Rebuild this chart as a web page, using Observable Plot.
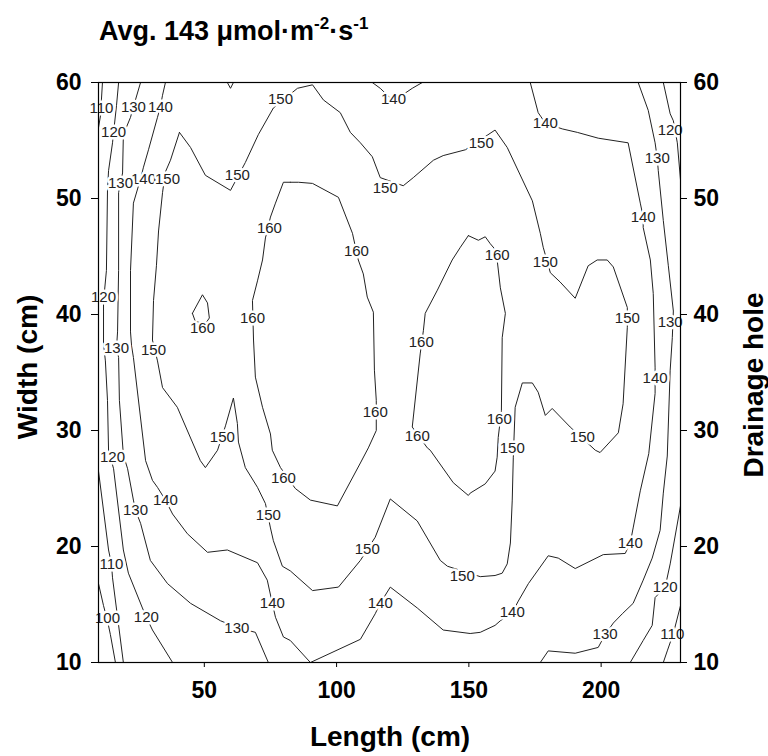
<!DOCTYPE html>
<html><head><meta charset="utf-8">
<script src="https://cdn.jsdelivr.net/npm/d3@7"></script>
<script src="https://cdn.jsdelivr.net/npm/@observablehq/plot@0.6"></script>
<style>body{margin:0;background:#fff;} #chart{width:768px;height:756px;}</style>
</head><body><div id="chart"></div>
<script>
// Axis ticks
const xTicks = [50, 100, 150, 200];
const yTicks = [10, 20, 30, 40, 50, 60];

// Contour lines: [length (cm), width (cm)]
const c150 = [[40.6,55.7],[37.2,53.3],[35.3,52.3],[34.2,50.5],[32.7,47.2],[31.9,44.2],[30.8,41.2],[30.4,37.8],[32.3,36.0],[34.2,33.7],[39.8,32.0],[48.5,27.4],[50.4,26.8],[55.0,28.3],[58.0,30.4],[61.0,32.8],[62.5,30.6],[62.9,29.0],[65.5,26.8],[70.1,25.1],[73.1,23.7],[75.0,21.6],[76.1,20.5],[79.5,18.3],[82.5,17.9],[90.9,16.2],[100.7,16.5],[109.0,18.8],[114.6,20.8],[120.3,24.1],[130.5,22.2],[139.2,18.8],[141.9,18.3],[154.3,17.4],[159.9,17.5],[162.6,17.7],[164.5,18.5],[165.7,20.3],[166.4,24.0],[166.8,27.7],[167.5,32.0],[170.2,34.1],[174.0,34.1],[176.2,33.3],[178.9,31.3],[181.5,31.9],[188.3,30.3],[197.8,28.3],[199.6,28.1],[206.5,29.8],[208.3,32.3],[209.9,38.9],[209.9,40.6],[204.6,44.1],[202.3,44.7],[198.5,44.7],[195.1,44.2],[190.2,41.4],[184.5,42.8],[180.8,43.6],[178.1,45.8],[177.0,47.0],[174.0,49.8],[164.5,54.4],[159.9,55.9],[148.7,54.2],[140.3,53.7],[136.6,53.3],[129.0,51.8],[125.2,51.1],[116.5,51.8],[113.5,53.6],[109.0,54.8],[105.2,55.7],[101.4,57.4],[95.0,58.5],[90.9,59.8],[85.2,59.5],[76.1,57.8],[70.4,55.5],[65.5,53.1],[59.9,50.7],[50.4,52.0],[44.8,54.4],[40.6,55.7]];
const c160left = [[82.5,51.4],[85.6,51.4],[90.9,51.3],[100.7,50.1],[106.0,47.0],[108.2,44.7],[110.1,43.5],[111.6,41.5],[113.9,40.2],[114.3,35.2],[115.0,32.6],[115.0,30.0],[112.0,28.5],[109.0,27.2],[100.3,23.5],[90.1,24.0],[84.4,25.0],[78.8,26.8],[75.7,28.3],[75.0,29.7],[72.0,32.0],[69.3,34.6],[68.6,37.8],[68.2,41.2],[70.1,42.9],[72.0,44.7],[73.1,46.6],[75.0,48.4],[76.9,49.6],[79.9,51.4],[82.5,51.4]];
const c160small = [[45.5,40.1],[49.3,41.7],[51.2,41.0],[51.9,39.7],[50.4,39.2],[46.6,39.4],[45.5,40.1]];
const c160right = [[149.8,46.8],[153.6,46.4],[156.2,46.7],[158.1,46.1],[160.7,45.4],[160.7,44.7],[161.9,42.3],[163.8,40.1],[162.6,38.0],[162.3,31.7],[161.1,29.4],[160.7,27.7],[159.9,26.5],[156.2,25.4],[150.5,24.6],[149.8,24.4],[144.1,25.5],[135.4,28.3],[134.3,28.5],[128.6,30.3],[131.6,36.6],[132.8,38.6],[133.5,40.1],[138.1,42.1],[143.7,44.7],[146.8,45.8],[149.8,46.8]];
const c140main = [[35.3,60],[34.2,58.9],[33.4,57.9],[32.3,57.0],[28.9,54.2],[27.0,52.7],[25.9,51.7],[23.2,49.6],[22.1,43.8],[22.1,38.5],[22.5,37.3],[23.2,36.3],[27.8,27.4],[30.4,25.7],[32.3,25.1],[35.3,24.0],[38.0,22.8],[43.6,21.1],[51.2,19.5],[58.7,19.7],[70.1,18.6],[73.8,17.1],[75.7,15.1],[76.9,13.9],[79.9,12.2],[82.5,11.9],[90.1,10.0],[109.0,12.0],[114.6,14.2],[116.5,15.1],[120.3,16.5],[130.5,14.7],[140.3,12.8],[150.5,12.5],[154.3,12.6],[159.9,13.2],[161.9,13.6],[166.4,14.3],[168.7,15.3],[172.5,16.8],[180.0,19.2],[183.8,19.0],[190.2,18.1],[200.8,19.3],[209.1,19.4],[211.0,20.3],[212.1,21.6],[214.8,24.8],[218.0,28.0],[220.4,33.2],[220.4,35.4],[219.7,41.8],[218.6,44.7],[215.9,47.5],[215.9,48.4],[214.8,49.6],[210.2,54.8],[198.9,55.2],[191.0,55.7],[185.3,56.0],[178.9,56.5],[176.2,57.4],[173.2,60]];
const c140top = [[113.5,60],[116.5,59.5],[121.5,58.4],[128.6,59.5],[132.4,60]];
const c140notch = [[58.7,60],[59.9,59.5],[61.0,60]];
const c130left = [[25.9,60],[23.2,57.9],[22.1,57.0],[19.4,55.5],[19.1,52.2],[18.3,51.3],[17.6,50.5],[17.6,43.8],[17.2,38.5],[16.8,37.1],[17.6,36.3],[17.9,32.6],[19.4,27.9],[21.0,26.7],[23.2,24.0],[24.0,23.1],[25.9,22.0],[29.6,18.8],[36.1,16.8],[44.8,15.1],[56.1,13.6],[62.5,13.0],[69.3,12.6],[74.2,10]];
const c130right = [[214.0,60],[217.8,57.6],[220.4,54.8],[221.2,53.5],[221.6,52.4],[223.5,48.1],[225.4,44.2],[227.3,40.3],[226.9,38.0],[226.1,35.2],[225.0,27.8],[223.5,24.6],[222.3,21.4],[219.3,19.0],[215.9,17.1],[212.1,15.1],[208.0,14.2],[204.6,13.4],[201.5,12.4],[198.9,11.3],[190.2,10.8],[180.0,11.0],[177.0,10]];
const c120left = [[17.6,60],[16.8,58.0],[15.7,55.7],[15.3,54.8],[13.8,52.4],[13.4,50.7],[13.0,43.8],[12.3,42.1],[11.9,41.5],[11.9,40.3],[11.9,37.5],[12.6,36.0],[13.4,32.6],[13.8,28.3],[15.7,26.7],[19.4,19.7],[21.3,17.7],[26.6,14.7],[28.1,13.9],[30.4,12.8],[38.0,10]];
const c120rightTop = [[223.5,60],[226.1,57.3],[227.3,56.7],[228.8,54.8],[230,51.6]];
const c120rightBottom = [[230,23.5],[226.1,18.5],[224.2,16.5],[220.4,15.6],[219.3,13.2],[215.9,11.9],[211.0,10]];
const c110leftTop = [[11.5,60],[11.1,58.5],[10.8,57.2],[10,56.1]];
const c110leftBottom = [[10,26.5],[13.8,19.7],[14.9,18.5],[15.3,17.3],[19.4,10]];
const c110right = [[230,14.9],[227.3,12.5],[225.0,11.0],[223.5,10]];
const c100 = [[10,16.8],[11.9,14.9],[13.4,13.6],[14.5,12.4],[16.4,10]];

const contours = [
  {level:150, pts:c150}, {level:160, pts:c160left}, {level:160, pts:c160small}, {level:160, pts:c160right},
  {level:140, pts:c140main}, {level:140, pts:c140top}, {level:140, pts:c140notch},
  {level:130, pts:c130left}, {level:130, pts:c130right},
  {level:120, pts:c120left}, {level:120, pts:c120rightTop}, {level:120, pts:c120rightBottom},
  {level:110, pts:c110leftTop}, {level:110, pts:c110leftBottom}, {level:110, pts:c110right},
  {level:100, pts:c100}
];

// Contour labels: [length, width, level] (partly hidden one first)
const labels = [
  [27.0,51.7,140],
  [11.1,57.8,110],[14.9,18.5,110],[226.9,12.4,110],
  [13.4,13.8,100],
  [15.7,55.7,120],[11.9,41.5,120],[15.3,27.7,120],[28.1,13.9,120],[226.1,55.9,120],[224.2,16.5,120],
  [23.2,57.9,130],[18.3,51.3,130],[16.8,37.1,130],[24.0,23.1,130],[62.3,13.0,130],[221.2,53.5,130],[226.1,39.3,130],[201.5,12.4,130],
  [33.4,57.9,140],[121.5,58.6,140],[178.9,56.5,140],[215.9,48.4,140],[220.4,34.5,140],[211.0,20.3,140],[166.4,14.3,140],[116.5,15.1,140],[75.7,15.1,140],[35.3,24.0,140],
  [36.1,51.7,150],[30.8,36.9,150],[56.8,29.4,150],[74.2,22.7,150],[111.6,19.8,150],[147.5,17.4,150],[166.4,28.5,150],[192.9,29.4,150],[209.9,39.7,150],[178.9,44.5,150],[154.7,54.8,150],[118.4,50.9,150],[78.8,58.6,150],[62.5,52.0,150],
  [74.6,47.4,160],[107.5,45.5,160],[114.6,31.6,160],[79.9,25.9,160],[68.2,39.7,160],[49.3,38.8,160],[160.7,45.1,160],[161.5,31.0,160],[130.5,29.5,160],[132.0,37.6,160]
];

const lineRows = contours.flatMap((c, i) => c.pts.map(([x, y]) => ({x, y, id: i, level: c.level})));
const labelRows = labels.map(([x, y, v]) => ({x, y, v}));

const FONT = '"Liberation Sans", Arial, Helvetica, sans-serif';
const axisText = {fontSize: 23, fontWeight: "bold", fontFamily: FONT, label: null};

const plot = Plot.plot({
  width: 768, height: 756,
  marginTop: 82, marginBottom: 94, marginLeft: 98, marginRight: 88,
  style: {fontFamily: FONT, background: "white", color: "#000", overflow: "visible"},
  x: {domain: [10, 230]},
  y: {domain: [10, 60]},
  marks: [
    Plot.line(lineRows, {x: "x", y: "y", z: "id", stroke: "#222", strokeWidth: 1, clip: true}),
    Plot.text(labelRows, {x: "x", y: "y", text: d => String(d.v), fontSize: 15, fontFamily: FONT,
      fill: "#222", stroke: "white", strokeWidth: 5, paintOrder: "stroke"}),
    Plot.frame({stroke: "#000", strokeWidth: 1.2}),
    Plot.axisX({ticks: xTicks, tickSize: 5, tickPadding: 14, ...axisText}),
    Plot.axisY({anchor: "left", ticks: yTicks, tickSize: 7, tickPadding: 10, ...axisText}),
    Plot.axisY({anchor: "right", ticks: yTicks, tickSize: 6, tickPadding: 7, ...axisText})
  ]
});

const svg = d3.select(plot);
// Title
const title = svg.append("text").attr("x", 99).attr("y", 40).attr("text-anchor", "start")
  .attr("font-family", FONT).attr("font-weight", "bold").attr("font-size", 27).attr("fill", "#000");
title.append("tspan").text("Avg. 143 \u03BCmol\u00B7m");
title.append("tspan").attr("font-size", 17).attr("dy", -11).text("-2");
title.append("tspan").attr("dy", 11).text("\u00B7s");
title.append("tspan").attr("font-size", 17).attr("dy", -11).text("-1");
// Axis titles
svg.append("text").attr("x", 390).attr("y", 746).attr("text-anchor", "middle")
  .attr("font-family", FONT).attr("font-weight", "bold").attr("font-size", 28).text("Length (cm)");
svg.append("text").attr("transform", "translate(37,367) rotate(-90)").attr("text-anchor", "middle")
  .attr("font-family", FONT).attr("font-weight", "bold").attr("font-size", 28).text("Width (cm)");
svg.append("text").attr("transform", "translate(763,385) rotate(-90)").attr("text-anchor", "middle")
  .attr("font-family", FONT).attr("font-weight", "bold").attr("font-size", 28).text("Drainage hole");

document.getElementById("chart").appendChild(plot);
</script>
</body></html>
